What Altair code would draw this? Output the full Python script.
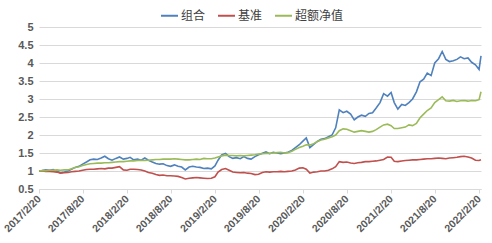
import altair as alt
import pandas as pd

# Observation dates: the 20th of each month, with a mid-point on the 5th, from 2017/2/20 to the last point
dates = []
for i in range(61):
    y, m = 2017 + (1 + i) // 12, (1 + i) % 12 + 1
    dates.append(f"{y}-{m:02d}-20T00:00:00")
    if i < 60:
        y2, m2 = 2017 + (2 + i) // 12, (2 + i) % 12 + 1
        dates.append(f"{y2}-{m2:02d}-05T00:00:00")
dates.append("2022-02-28T00:00:00")

portfolio = [1.00, 1.01, 1.03, 1.02, 1.04, 0.99, 0.95, 0.97, 1.00, 1.05,
             1.10, 1.13, 1.19, 1.25, 1.31, 1.33, 1.32, 1.36, 1.41, 1.34,
             1.30, 1.35, 1.39, 1.33, 1.35, 1.38, 1.31, 1.33, 1.30, 1.36,
             1.30, 1.25, 1.21, 1.19, 1.20, 1.15, 1.13, 1.17, 1.13, 1.11,
             1.03, 1.11, 1.13, 1.11, 1.10, 1.07, 1.08, 1.06, 1.14, 1.30,
             1.45, 1.49, 1.40, 1.35, 1.37, 1.34, 1.40, 1.35, 1.33, 1.40,
             1.45, 1.49, 1.53, 1.48, 1.52, 1.50, 1.48, 1.50, 1.52, 1.57,
             1.65, 1.73, 1.83, 1.92, 1.65, 1.74, 1.82, 1.88, 1.90, 1.95,
             2.00, 2.20, 2.70, 2.62, 2.66, 2.58, 2.42, 2.50, 2.55, 2.52,
             2.60, 2.62, 2.75, 2.90, 3.15, 3.08, 3.18, 2.90, 2.72, 2.85,
             2.82, 2.90, 3.00, 3.20, 3.48, 3.55, 3.72, 3.65, 4.00, 4.12,
             4.32, 4.10, 4.04, 4.06, 4.10, 4.17, 4.12, 4.14, 4.02, 3.95,
             3.82, 4.20]
benchmark = [1.00, 1.00, 0.99, 0.99, 0.98, 0.97, 0.94, 0.95, 0.96, 0.98,
             0.99, 1.00, 1.02, 1.04, 1.05, 1.05, 1.06, 1.07, 1.06, 1.08,
             1.08, 1.10, 1.12, 1.03, 1.02, 1.05, 1.05, 1.04, 1.03, 1.00,
             0.96, 0.94, 0.90, 0.88, 0.89, 0.87, 0.87, 0.86, 0.85, 0.82,
             0.78, 0.80, 0.81, 0.82, 0.81, 0.80, 0.79, 0.80, 0.84, 0.97,
             1.04, 1.07, 1.02, 0.97, 0.96, 0.95, 0.96, 0.94, 0.93, 0.90,
             0.91, 0.96, 0.98, 0.97, 0.98, 0.98, 0.99, 0.98, 0.99, 1.00,
             1.03, 1.08, 1.09, 1.05, 0.94, 0.97, 0.98, 1.00, 1.00, 1.02,
             1.06, 1.12, 1.26, 1.24, 1.25, 1.22, 1.21, 1.23, 1.24, 1.26,
             1.26, 1.27, 1.28, 1.30, 1.32, 1.39, 1.38, 1.27, 1.26, 1.28,
             1.29, 1.30, 1.31, 1.31, 1.32, 1.33, 1.34, 1.34, 1.35, 1.36,
             1.35, 1.34, 1.36, 1.37, 1.38, 1.40, 1.41, 1.39, 1.36, 1.30,
             1.29, 1.31]
excess = [1.00, 1.01, 1.01, 1.02, 1.02, 1.03, 1.02, 1.03, 1.03, 1.06,
          1.10, 1.12, 1.15, 1.18, 1.20, 1.21, 1.22, 1.22, 1.23, 1.23,
          1.24, 1.25, 1.26, 1.26, 1.27, 1.28, 1.28, 1.29, 1.30, 1.29,
          1.30, 1.31, 1.32, 1.32, 1.33, 1.33, 1.33, 1.34, 1.33, 1.32,
          1.31, 1.31, 1.32, 1.33, 1.32, 1.35, 1.34, 1.34, 1.36, 1.39,
          1.42, 1.44, 1.43, 1.43, 1.42, 1.43, 1.42, 1.43, 1.44, 1.45,
          1.47, 1.48, 1.49, 1.49, 1.50, 1.51, 1.52, 1.50, 1.51, 1.55,
          1.60, 1.65, 1.69, 1.73, 1.72, 1.76, 1.82, 1.86, 1.88, 1.92,
          1.95, 2.00, 2.12, 2.17, 2.16, 2.12, 2.08, 2.10, 2.12, 2.10,
          2.08, 2.10, 2.15, 2.22, 2.28, 2.30, 2.26, 2.18, 2.18, 2.20,
          2.22, 2.28, 2.26, 2.32, 2.48, 2.58, 2.68, 2.75, 2.90, 2.98,
          3.06, 2.95, 2.94, 2.96, 2.93, 2.95, 2.96, 2.94, 2.96, 2.95,
          2.98, 3.20]

series_names = ["组合", "基准", "超额净值"]
series_colors = ["#4F81BD", "#C0504D", "#9BBB59"]
y_ticks = [0.5, 1, 1.5, 2, 2.5, 3, 3.5, 4, 4.5, 5]
x_tick_dates = [(2017, 2), (2017, 8), (2018, 2), (2018, 8), (2019, 2), (2019, 8),
                (2020, 2), (2020, 8), (2021, 2), (2021, 8), (2022, 2)]

rows = []
for name, vals in zip(series_names, [portfolio, benchmark, excess]):
    for d, v in zip(dates, vals):
        rows.append({"date": d, "value": v, "series": name, "k": series_names.index(name)})
df = pd.DataFrame(rows)

x_values = [alt.DateTime(year=y, month=m, date=20) for y, m in x_tick_dates]

chart = alt.Chart(df).mark_line(strokeWidth=1.6).encode(
    x=alt.X("date:T",
            scale=alt.Scale(domain=[alt.DateTime(year=2017, month=2, date=20),
                                    alt.DateTime(year=2022, month=2, date=28)]),
            axis=alt.Axis(values=x_values, format="%Y/%-m/%-d", labelAngle=-45,
                          labelAlign="right", labelBaseline="middle",
                          labelFont="Liberation Sans", labelFontWeight="bold",
                          labelFontSize=10.5, labelColor="#595959", labelPadding=4,
                          grid=False, domainColor="#d9d9d9", tickColor="#d9d9d9",
                          tickSize=4, title=None)),
    y=alt.Y("value:Q",
            scale=alt.Scale(domain=[0.5, 5], nice=False, zero=False),
            axis=alt.Axis(values=y_ticks, format="~g", labelFont="Liberation Sans",
                          labelFontWeight="bold", labelFontSize=11, labelColor="#595959",
                          gridColor="#d9d9d9", domain=False, ticks=False,
                          labelPadding=6, title=None)),
    color=alt.Color("series:N",
                    scale=alt.Scale(domain=series_names, range=series_colors),
                    legend=alt.Legend(orient="none", legendX=121, legendY=-21,
                                      direction="horizontal", title=None,
                                      symbolType="stroke", symbolSize=289,
                                      symbolStrokeWidth=2, labelFont="Noto Sans CJK SC",
                                      labelFontSize=12, labelColor="#404040",
                                      labelOffset=2, columnPadding=8)),
    order=alt.Order("k:Q"),
).properties(
    width=442, height=162,
    autosize=alt.AutoSizeParams(type="none"),
    padding={"left": 39, "top": 27, "right": 11, "bottom": 54},
).configure_view(stroke=None)

chart.save("out.html", embed_options={"renderer": "svg", "actions": False})
